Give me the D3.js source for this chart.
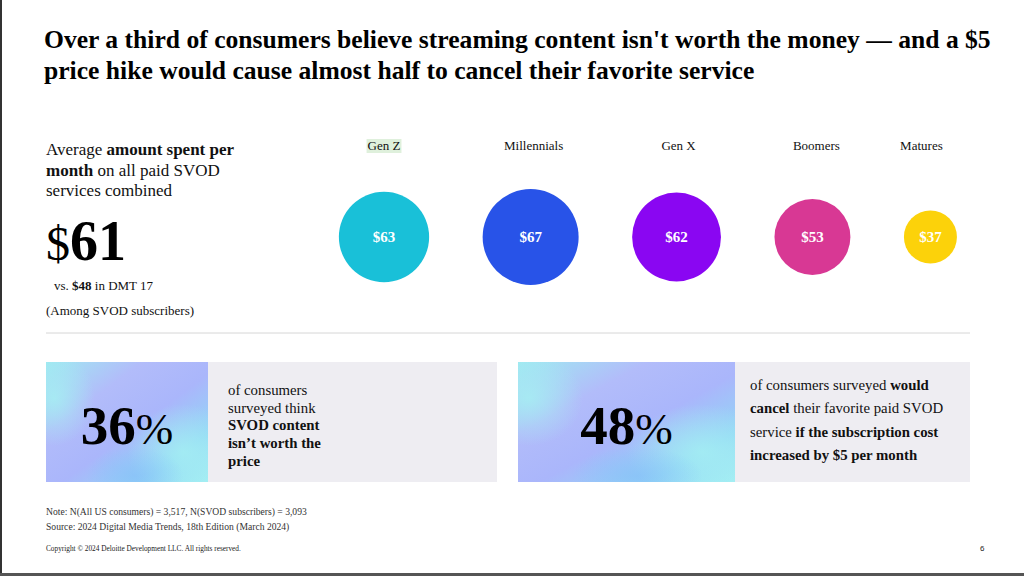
<!DOCTYPE html>
<html>
<head>
<meta charset="utf-8">
<script src="https://cdn.jsdelivr.net/npm/d3@7"></script>
<style>
  body { margin: 0; background: #fff; }
  svg { display: block; font-family: "Liberation Serif", "Times New Roman", serif; }
</style>
</head>
<body>
<script>
// chart data
var generations = ["Gen Z", "Millennials", "Gen X", "Boomers", "Matures"];
var spend = [63, 67, 62, 53, 37];
var colors = ["#19c0d8", "#2853e8", "#8a06f2", "#d83894", "#fcd20a"];
var overall = 61;
var previous = 48;
var statValues = [36, 48];

var w = 1024, h = 576;
var svg = d3.select("body").append("svg").attr("width", w).attr("height", h);

// page frame
svg.append("rect").attr("x", 0).attr("y", 0).attr("width", 2).attr("height", h).attr("fill", "#333");
svg.append("rect").attr("x", 0).attr("y", h - 3).attr("width", w).attr("height", 3).attr("fill", "#555");

// title
var title = svg.append("text")
    .attr("x", 44).attr("y", 48)
    .attr("font-size", 25.6).attr("font-weight", "bold").attr("fill", "#000");
title.append("tspan").attr("x", 44)
    .text("Over a third of consumers believe streaming content isn't worth the money \u2014 and a $5");
title.append("tspan").attr("x", 44).attr("dy", 31)
    .text("price hike would cause almost half to cancel their favorite service");

// helper for lines of mixed bold / normal text
function richText(g, x, y, lineH, size, lines) {
    var t = g.append("text").attr("x", x).attr("y", y).attr("font-size", size).attr("fill", "#111");
    lines.forEach(function(line, i) {
        line.forEach(function(seg, j) {
            var ts = t.append("tspan").text(seg[0]).attr("font-weight", seg[1] ? "bold" : "normal");
            if (j == 0) ts.attr("x", x).attr("dy", i == 0 ? 0 : lineH);
        });
    });
    return t;
}

// left summary block
richText(svg, 46, 155, 20.5, 17, [
    [["Average ", false], ["amount spent per", true]],
    [["month", true], [" on all paid SVOD", false]],
    [["services combined", false]]
]);

var big = svg.append("text").attr("x", 46).attr("y", 260).attr("fill", "#000");
big.append("tspan").attr("font-size", 48).text("$");
big.append("tspan").attr("font-size", 56).attr("font-weight", "bold").text(overall);

richText(svg, 54, 290, 0, 13, [[["vs. ", false], ["$" + previous, true], [" in DMT 17", false]]]);
richText(svg, 46, 315, 0, 13, [[["(Among SVOD subscribers)", false]]]);

// bubbles: radius proportional to value, laid out left to right with equal gaps
var r = d3.scaleLinear().domain([0, d3.max(spend)]).range([0, 48]);
var gap = 53.5, cy = 237;
var cx = [];
spend.forEach(function(v, i) {
    if (i == 0) cx.push(384);
    else cx.push(cx[i - 1] + r(spend[i - 1]) + gap + r(v));
});

var bubbles = svg.selectAll("g.bubble")
    .data(generations)
    .enter()
    .append("g")
    .attr("class", "bubble");

bubbles.append("circle")
    .attr("cx", function(d, i) { return cx[i]; })
    .attr("cy", cy)
    .attr("r", function(d, i) { return r(spend[i]); })
    .attr("fill", function(d, i) { return colors[i]; });

bubbles.append("text")
    .attr("x", function(d, i) { return cx[i]; })
    .attr("y", cy)
    .attr("dy", "0.35em")
    .attr("text-anchor", "middle")
    .attr("font-size", 15)
    .attr("font-weight", "bold")
    .attr("fill", "#fff")
    .text(function(d, i) { return "$" + spend[i]; });

// generation labels
var labelNudge = [0, 3, 2, 4, -9];
var labels = bubbles.append("text")
    .attr("x", function(d, i) { return cx[i] + labelNudge[i]; })
    .attr("y", 150)
    .attr("text-anchor", "middle")
    .attr("font-size", 13)
    .attr("fill", "#111")
    .text(function(d) { return d; });

// highlight behind Gen Z label
labels.filter(function(d, i) { return i == 0; }).each(function() {
    var b = this.getBBox();
    d3.select(this.parentNode).insert("rect", "text")
        .attr("x", b.x - 1).attr("y", b.y + 1)
        .attr("width", b.width + 2).attr("height", b.height - 1)
        .attr("fill", "#dff0dc");
});

// divider
svg.append("line")
    .attr("x1", 46).attr("x2", 970).attr("y1", 333).attr("y2", 333)
    .attr("stroke", "#d6d6d6").attr("stroke-width", 1);

// gradient for stat tiles
var defs = svg.append("defs");
var grad = defs.append("linearGradient").attr("id", "tile")
    .attr("x1", "0%").attr("y1", "0%").attr("x2", "100%").attr("y2", "100%");
[["0%", "#9fe9f1"], ["30%", "#b2bcfa"], ["55%", "#aab6fb"], ["80%", "#93d6f6"], ["100%", "#a3eef3"]]
    .forEach(function(s) { grad.append("stop").attr("offset", s[0]).attr("stop-color", s[1]); });
var glow = defs.append("radialGradient").attr("id", "glow");
glow.append("stop").attr("offset", "0%").attr("stop-color", "#a6f0f2").attr("stop-opacity", 0.8);
glow.append("stop").attr("offset", "100%").attr("stop-color", "#a6f0f2").attr("stop-opacity", 0);
var glow2 = defs.append("radialGradient").attr("id", "glow2");
glow2.append("stop").attr("offset", "0%").attr("stop-color", "#86bff8").attr("stop-opacity", 0.7);
glow2.append("stop").attr("offset", "100%").attr("stop-color", "#86bff8").attr("stop-opacity", 0);

var panels = [
    { x: 46, split: 208, end: 497, textX: 228, textY: 395, lineH: 17.7, lines: [
        [["of consumers", false]],
        [["surveyed think", false]],
        [["SVOD content", true]],
        [["isn\u2019t worth the", true]],
        [["price", true]]
    ]},
    { x: 518, split: 735, end: 970, textX: 750, textY: 390, lineH: 23.3, lines: [
        [["of consumers surveyed ", false], ["would", true]],
        [["cancel", true], [" their favorite paid SVOD", false]],
        [["service ", false], ["if the subscription cost", true]],
        [["increased by $5 per month", true]]
    ]}
];
var py = 362, ph = 120;

panels.forEach(function(p, i) {
    var g = svg.append("g");
    g.append("rect").attr("x", p.split).attr("y", py).attr("width", p.end - p.split).attr("height", ph)
        .attr("fill", "#eeedf2");
    g.append("rect").attr("x", p.x).attr("y", py).attr("width", p.split - p.x).attr("height", ph)
        .attr("fill", "url(#tile)");
    var cw = p.split - p.x;
    var clipId = "clip" + i;
    defs.append("clipPath").attr("id", clipId).append("rect")
        .attr("x", p.x).attr("y", py).attr("width", cw).attr("height", ph);
    g.append("ellipse").attr("clip-path", "url(#" + clipId + ")")
        .attr("cx", p.x + cw * 0.85).attr("cy", py + ph * 0.75).attr("rx", cw * 0.35).attr("ry", ph * 0.4)
        .attr("fill", "url(#glow)");
    g.append("ellipse").attr("clip-path", "url(#" + clipId + ")")
        .attr("cx", p.x + cw * 0.55).attr("cy", py + ph * 0.95).attr("rx", cw * 0.3).attr("ry", ph * 0.25)
        .attr("fill", "url(#glow2)");
    g.append("ellipse").attr("clip-path", "url(#" + clipId + ")")
        .attr("cx", p.x + cw * 0.05).attr("cy", py + ph * 0.3).attr("rx", cw * 0.25).attr("ry", ph * 0.4)
        .attr("fill", "url(#glow)");

    var st = g.append("text")
        .attr("x", p.x + cw / 2).attr("y", 444)
        .attr("text-anchor", "middle").attr("fill", "#000");
    st.append("tspan").attr("font-size", 55).attr("font-weight", "bold").text(statValues[i]);
    st.append("tspan").attr("font-size", 45).text("%");

    richText(g, p.textX, p.textY, p.lineH, 14.8, p.lines);
});

// footnotes
svg.append("text").attr("x", 46).attr("y", 515).attr("font-size", 9.6).attr("fill", "#333")
    .text("Note: N(All US consumers) = 3,517, N(SVOD subscribers) = 3,093");
svg.append("text").attr("x", 46).attr("y", 530).attr("font-size", 9.6).attr("fill", "#333")
    .text("Source: 2024 Digital Media Trends, 18th Edition (March 2024)");
svg.append("text").attr("x", 46).attr("y", 551).attr("font-size", 7.3).attr("fill", "#222")
    .text("Copyright \u00a9 2024 Deloitte Development LLC. All rights reserved.");
svg.append("text").attr("x", 980).attr("y", 551).attr("font-size", 8)
    .attr("font-family", "Liberation Sans, Arial, sans-serif").attr("fill", "#222").text("6");
</script>
</body>
</html>
